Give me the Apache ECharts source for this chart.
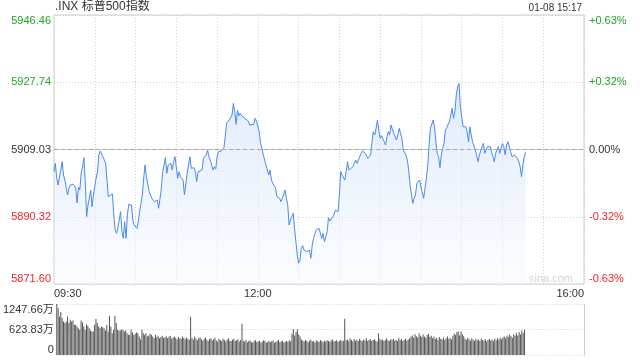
<!DOCTYPE html>
<html><head><meta charset="utf-8">
<script src="https://cdn.jsdelivr.net/npm/echarts@6/dist/echarts.min.js"></script>
<style>html,body{margin:0;padding:0;background:#fff}#c{width:640px;height:360px}</style>
</head><body><div id="c"></div>
<script>
const titleText = '.INX 标普500指数';
const dateText = '01-08 15:17';
const prevClose = 5909.03;
const priceRange = 37.43;
const priceTickLabels = ['5871.60','5890.32','5909.03','5927.74','5946.46'];
const pctTickLabels = ['-0.63%','-0.32%','0.00%','+0.32%','+0.63%'];
const timeTicks = [0,150,390];
const timeTickLabels = ['09:30','12:00','16:00'];
const volMax = 1247.66;
const volTickLabels = ['0','623.83万','1247.66万'];

const priceMinutes = [0,1,2,3,5,6,7,8,10,11,12,13,14,16,17,18,19,20,21,22,23,24,25,26,27,28,29,30,31,32,33,34,35,36,37,38,39,40,41,43,44,45,46,47,48,49,50,51,52,53,54,55,56,57,58,59,60,61,62,63,64,65,66,67,68,70,
71,72,74,75,76,77,78,79,80,82,83,84,85,86,87,88,89,90,91,92,93,95,96,97,98,99,100,101,102,103,104,105,106,107,109,110,111,112,113,114,115,116,117,118,119,120,121,122,123,124,125,126,127,128,129,131,132,133,134,135,136,137,138,139,
141,142,143,144,145,147,148,149,150,151,152,153,154,155,156,158,159,160,161,162,163,164,165,166,167,169,170,171,172,173,174,175,176,177,178,179,180,181,182,183,184,185,186,187,188,189,190,191,192,193,195,196,197,198,199,200,201,202,203,204,206,207,
208,209,210,211,212,213,214,215,216,217,218,220,221,222,223,224,226,227,228,229,231,232,233,234,235,236,237,238,239,240,241,242,243,244,245,246,247,248,249,250,251,252,253,254,255,256,257,258,259,260,261,262,264,265,266,267,268,269,270,271,272,273,274,275,276,277,
279,280,281,282,283,284,285,286,287,288,289,290,291,292,293,294,295,296,297,298,299,300,301,302,303,304,305,306,307,308,309,310,311,312,313,314,315,316,317,318,319,320,321,322,323,324,325,326,327,328,329,330,331,332,333,334,335,336,337,338,339,340,341,342,343,344,345,346,347];

const priceValues = [5902.85,5905.19,5901.10,5899.15,5903.32,5905.63,5901.93,5900.54,5896.37,5898.31,5899.15,5899.70,5899.43,5898.31,5894.14,5898.59,5897.76,5902.49,5904.16,5906.75,5900.07,5890.33,5893.58,5895.53,5897.76,5893.11,5896.37,5896.92,5901.10,5902.85,5907.50,5908.61,5908.42,5907.03,5906.58,5905.19,5905.63,5895.90,5896.37,5896.65,5890.80,5886.63,5885.71,5887.18,5887.27,5891.72,5886.15,5884.31,5888.93,5884.31,5890.80,5893.77,5894.05,5893.58,5889.41,5888.01,5887.82,5887.10,5888.93,5891.72,5892.19,5896.37,5901.01,5904.71,5901.46,5897.28,
5896.84,5895.45,5894.50,5894.05,5894.97,5892.66,5895.45,5898.23,5902.85,5906.75,5902.40,5904.71,5904.24,5905.19,5903.32,5905.63,5907.03,5904.24,5901.01,5902.85,5901.46,5900.54,5896.37,5895.90,5902.40,5901.93,5907.03,5903.80,5904.24,5903.96,5902.85,5900.07,5902.85,5902.68,5903.32,5906.58,5907.03,5907.50,5908.89,5907.03,5906.10,5904.71,5903.32,5904.24,5903.60,5907.03,5908.42,5907.97,5908.61,5908.61,5909.36,5912.59,5916.32,5916.76,5917.24,5918.63,5921.88,5919.54,5916.04,5920.02,5918.43,5919.10,5918.43,5918.15,
5917.51,5917.43,5916.96,5915.84,5916.32,5916.04,5917.71,5916.96,5916.76,5913.98,5910.75,5909.36,5907.50,5907.03,5904.71,5901.93,5903.32,5900.54,5899.62,5899.15,5898.40,5895.90,5896.37,5895.45,5894.50,5896.37,5897.76,5895.45,5893.58,5888.01,5889.41,5889.41,5891.27,5887.10,5883.37,5879.67,5877.36,5878.27,5881.53,5882.25,5881.06,5881.34,5880.58,5880.14,5881.06,5878.75,5882.45,5884.31,5885.71,5886.63,5887.10,5887.27,5884.31,5885.71,5883.37,5884.76,5886.15,5890.05,5889.13,5888.93,5890.80,5892.19,
5892.66,5891.72,5896.37,5902.85,5901.93,5902.40,5900.54,5902.85,5905.63,5903.32,5903.80,5904.24,5905.19,5906.10,5905.19,5905.47,5907.97,5908.61,5908.89,5907.97,5906.58,5906.10,5907.50,5911.20,5913.98,5913.06,5914.93,5917.24,5914.45,5912.14,5912.87,5913.06,5911.20,5910.28,5912.59,5913.98,5913.06,5915.84,5915.37,5913.53,5913.26,5911.67,5913.06,5914.93,5913.53,5912.14,5908.89,5909.36,5907.50,5906.10,5903.32,5899.15,5894.05,5895.45,5896.37,5899.62,5899.15,5900.54,5898.67,5898.23,5895.45,5898.23,5901.01,5904.24,5910.28,5914.93,
5917.24,5915.37,5911.20,5907.97,5907.03,5903.96,5907.50,5909.36,5910.75,5914.45,5915.09,5916.04,5916.76,5916.96,5920.49,5917.71,5919.54,5924.19,5926.50,5927.45,5920.94,5918.15,5915.37,5915.09,5915.37,5913.98,5911.20,5915.37,5913.06,5911.20,5911.67,5908.89,5907.50,5905.63,5907.50,5907.69,5909.81,5910.75,5907.97,5908.89,5909.81,5910.08,5909.81,5908.25,5907.03,5905.63,5907.97,5908.89,5909.81,5907.97,5908.25,5910.75,5909.81,5907.50,5910.28,5911.20,5910.75,5908.42,5907.03,5907.03,5907.50,5907.97,5906.58,5905.63,5904.24,5901.46,5904.71,5907.03,5908.25];

const volumes = [1247,1149,944,1050,903,821,780,821,944,780,862,821,845,739,739,700,657,616,845,796,698,616,755,714,657,600,575,575,739,878,780,698,657,698,680,657,599,739,575,960,698,534,620,960,780,616,599,599,616,616,575,599,534,493,493,616,550,493,517,550,534,451,386,616,534,493,534,451,468,517,493,451,410,493,435,468,410,440,470,420,
430,460,410,445,470,395,430,455,420,380,440,410,395,450,420,385,430,400,375,930,
420,380,450,395,360,410,430,385,350,400,420,375,345,390,410,360,380,420,355,330,395,370,345,400,365,330,380,410,350,340,375,395,340,360,385,330,370,
763,
350,330,365,310,340,355,320,300,345,360,315,330,350,305,325,360,340,300,320,345,310,335,355,300,320,340,365,310,330,350,300,325,345,315,360,335,
520,630,480,560,630,500,450,
380,350,330,365,340,310,355,375,330,345,300,360,335,320,370,345,310,350,330,365,340,315,355,380,330,345,360,320,340,370,335,350,
886,
360,380,340,410,365,330,390,350,375,340,400,360,335,380,355,410,345,370,390,340,365,385,350,330,533,400,360,380,345,370,410,355,340,385,365,395,350,375,340,420,360,390,345,370,400,355,380,410,
450,480,420,510,460,430,533,470,440,500,455,425,490,520,440,470,410,450,
390,420,370,440,400,380,430,365,410,450,395,420,380,470,
520,490,560,575,480,575,510,460,
400,370,420,385,350,410,375,345,395,360,380,340,405,365,350,390,335,370,400,355,380,345,395,360,410,375,420,385,430,
450,410,480,440,500,460,420,510,470,530,480,560,500,600,540,620];

const FONT = '"Liberation Sans", Arial, "Noto Sans CJK SC", sans-serif';
const GREEN = '#23a323';
const RED = '#f22323';
const step = priceRange / 2;
function tickIdx(v){ return Math.round((Number(v) + priceRange) / step); }
function tickColor(v){ const i = tickIdx(v); return i < 2 ? RED : (i > 2 ? GREEN : '#333'); }

const chart = echarts.init(document.getElementById('c'), null, {renderer:'canvas'});
chart.setOption({
  animation: false,
  backgroundColor: '#fff',
  title: { text: titleText, left: 55, top: 1, padding: 0, textStyle: { fontSize: 12, fontWeight: 'normal', color: '#333', fontFamily: FONT } },
  graphic: [
    { type: 'text', right: 58, top: 3, style: { text: dateText, fontSize: 10, fill: '#333', fontFamily: FONT } },
    { type: 'text', right: 67, top: 273, style: { text: 'sina.com', fontSize: 11, fill: '#d4d4d4', fontFamily: FONT } }
  ],
  grid: [
    { left: 54, right: 56, top: 15, height: 269, show: true, borderColor: '#ccc', borderWidth: 1 },
    { left: 54, right: 56, top: 304, height: 51 }
  ],
  xAxis: [
    { type: 'value', gridIndex: 0, min: 0, max: 390, interval: 30,
      axisLine: { show: true, lineStyle: { color: '#ccc' } }, axisTick: { show: false },
      splitLine: { show: true, lineStyle: { color: '#d0d0d0', type: [1, 2] } },
      axisLabel: { show: true, margin: 4, fontSize: 11, color: '#333', fontFamily: FONT,
        alignMinLabel: 'left', alignMaxLabel: 'right',
        formatter: function(v){ const i = timeTicks.indexOf(Number(v)); return i >= 0 ? timeTickLabels[i] : ''; } } },
    { type: 'value', gridIndex: 1, min: 0, max: 390, interval: 30,
      axisLine: { show: false }, axisTick: { show: false }, splitLine: { show: false }, axisLabel: { show: false } }
  ],
  yAxis: [
    { type: 'value', gridIndex: 0, min: -priceRange, max: priceRange, interval: step, position: 'left',
      axisLine: { show: false }, axisTick: { show: false },
      splitLine: { show: true, lineStyle: { color: '#d0d0d0', type: [1, 2] } },
      axisLabel: { margin: 3, fontSize: 11, fontFamily: FONT,
        verticalAlignMinLabel: 'bottom', verticalAlignMaxLabel: 'top',
        color: function(v){ return tickColor(v); },
        formatter: function(v){ return priceTickLabels[tickIdx(v)]; } } },
    { type: 'value', gridIndex: 0, min: -priceRange, max: priceRange, interval: step, position: 'right',
      axisLine: { show: false }, axisTick: { show: false }, splitLine: { show: false },
      axisLabel: { margin: 5, fontSize: 11, fontFamily: FONT,
        verticalAlignMinLabel: 'bottom', verticalAlignMaxLabel: 'top',
        color: function(v){ return tickColor(v); },
        formatter: function(v){ return pctTickLabels[tickIdx(v)]; } } },
    { type: 'value', gridIndex: 1, min: 0, max: volMax, interval: volMax / 2, position: 'left',
      axisLine: { show: false }, axisTick: { show: false },
      splitLine: { show: true, lineStyle: { color: '#cfcfcf', type: [1, 2] } },
      axisLabel: { margin: 3, fontSize: 11, color: '#333', fontFamily: FONT,
        verticalAlignMinLabel: 'bottom', verticalAlignMaxLabel: 'top',
        formatter: function(v){ return volTickLabels[Math.round(Number(v) / (volMax / 2))]; } } },
    { type: 'value', gridIndex: 1, min: 0, max: volMax, interval: volMax / 2, position: 'right',
      axisLine: { show: true, lineStyle: { color: '#ccc' } }, axisTick: { show: false },
      splitLine: { show: false }, axisLabel: { show: false } }
  ],
  series: [
    { type: 'line', xAxisIndex: 0, yAxisIndex: 0, symbol: 'none', smooth: false,
      data: priceMinutes.map(function(m, i){ return [m, priceValues[i] - prevClose]; }),
      lineStyle: { color: '#4a8af0', width: 1 },
      areaStyle: { origin: 'start', color: new echarts.graphic.LinearGradient(0, 0, 0, 1, [
        { offset: 0, color: 'rgba(205,223,247,0.9)' }, { offset: 1, color: 'rgba(246,250,255,0.7)' } ]) },
      markLine: { silent: true, symbol: 'none', label: { show: false },
        lineStyle: { color: '#a8a8a8', type: [4, 3], width: 1 }, data: [{ yAxis: 0 }] } },
    { type: 'bar', xAxisIndex: 1, yAxisIndex: 2, barWidth: 1,
      data: volumes.map(function(v, i){ return [i, v]; }),
      itemStyle: { color: '#555' } }
  ]
});
</script></body></html>
